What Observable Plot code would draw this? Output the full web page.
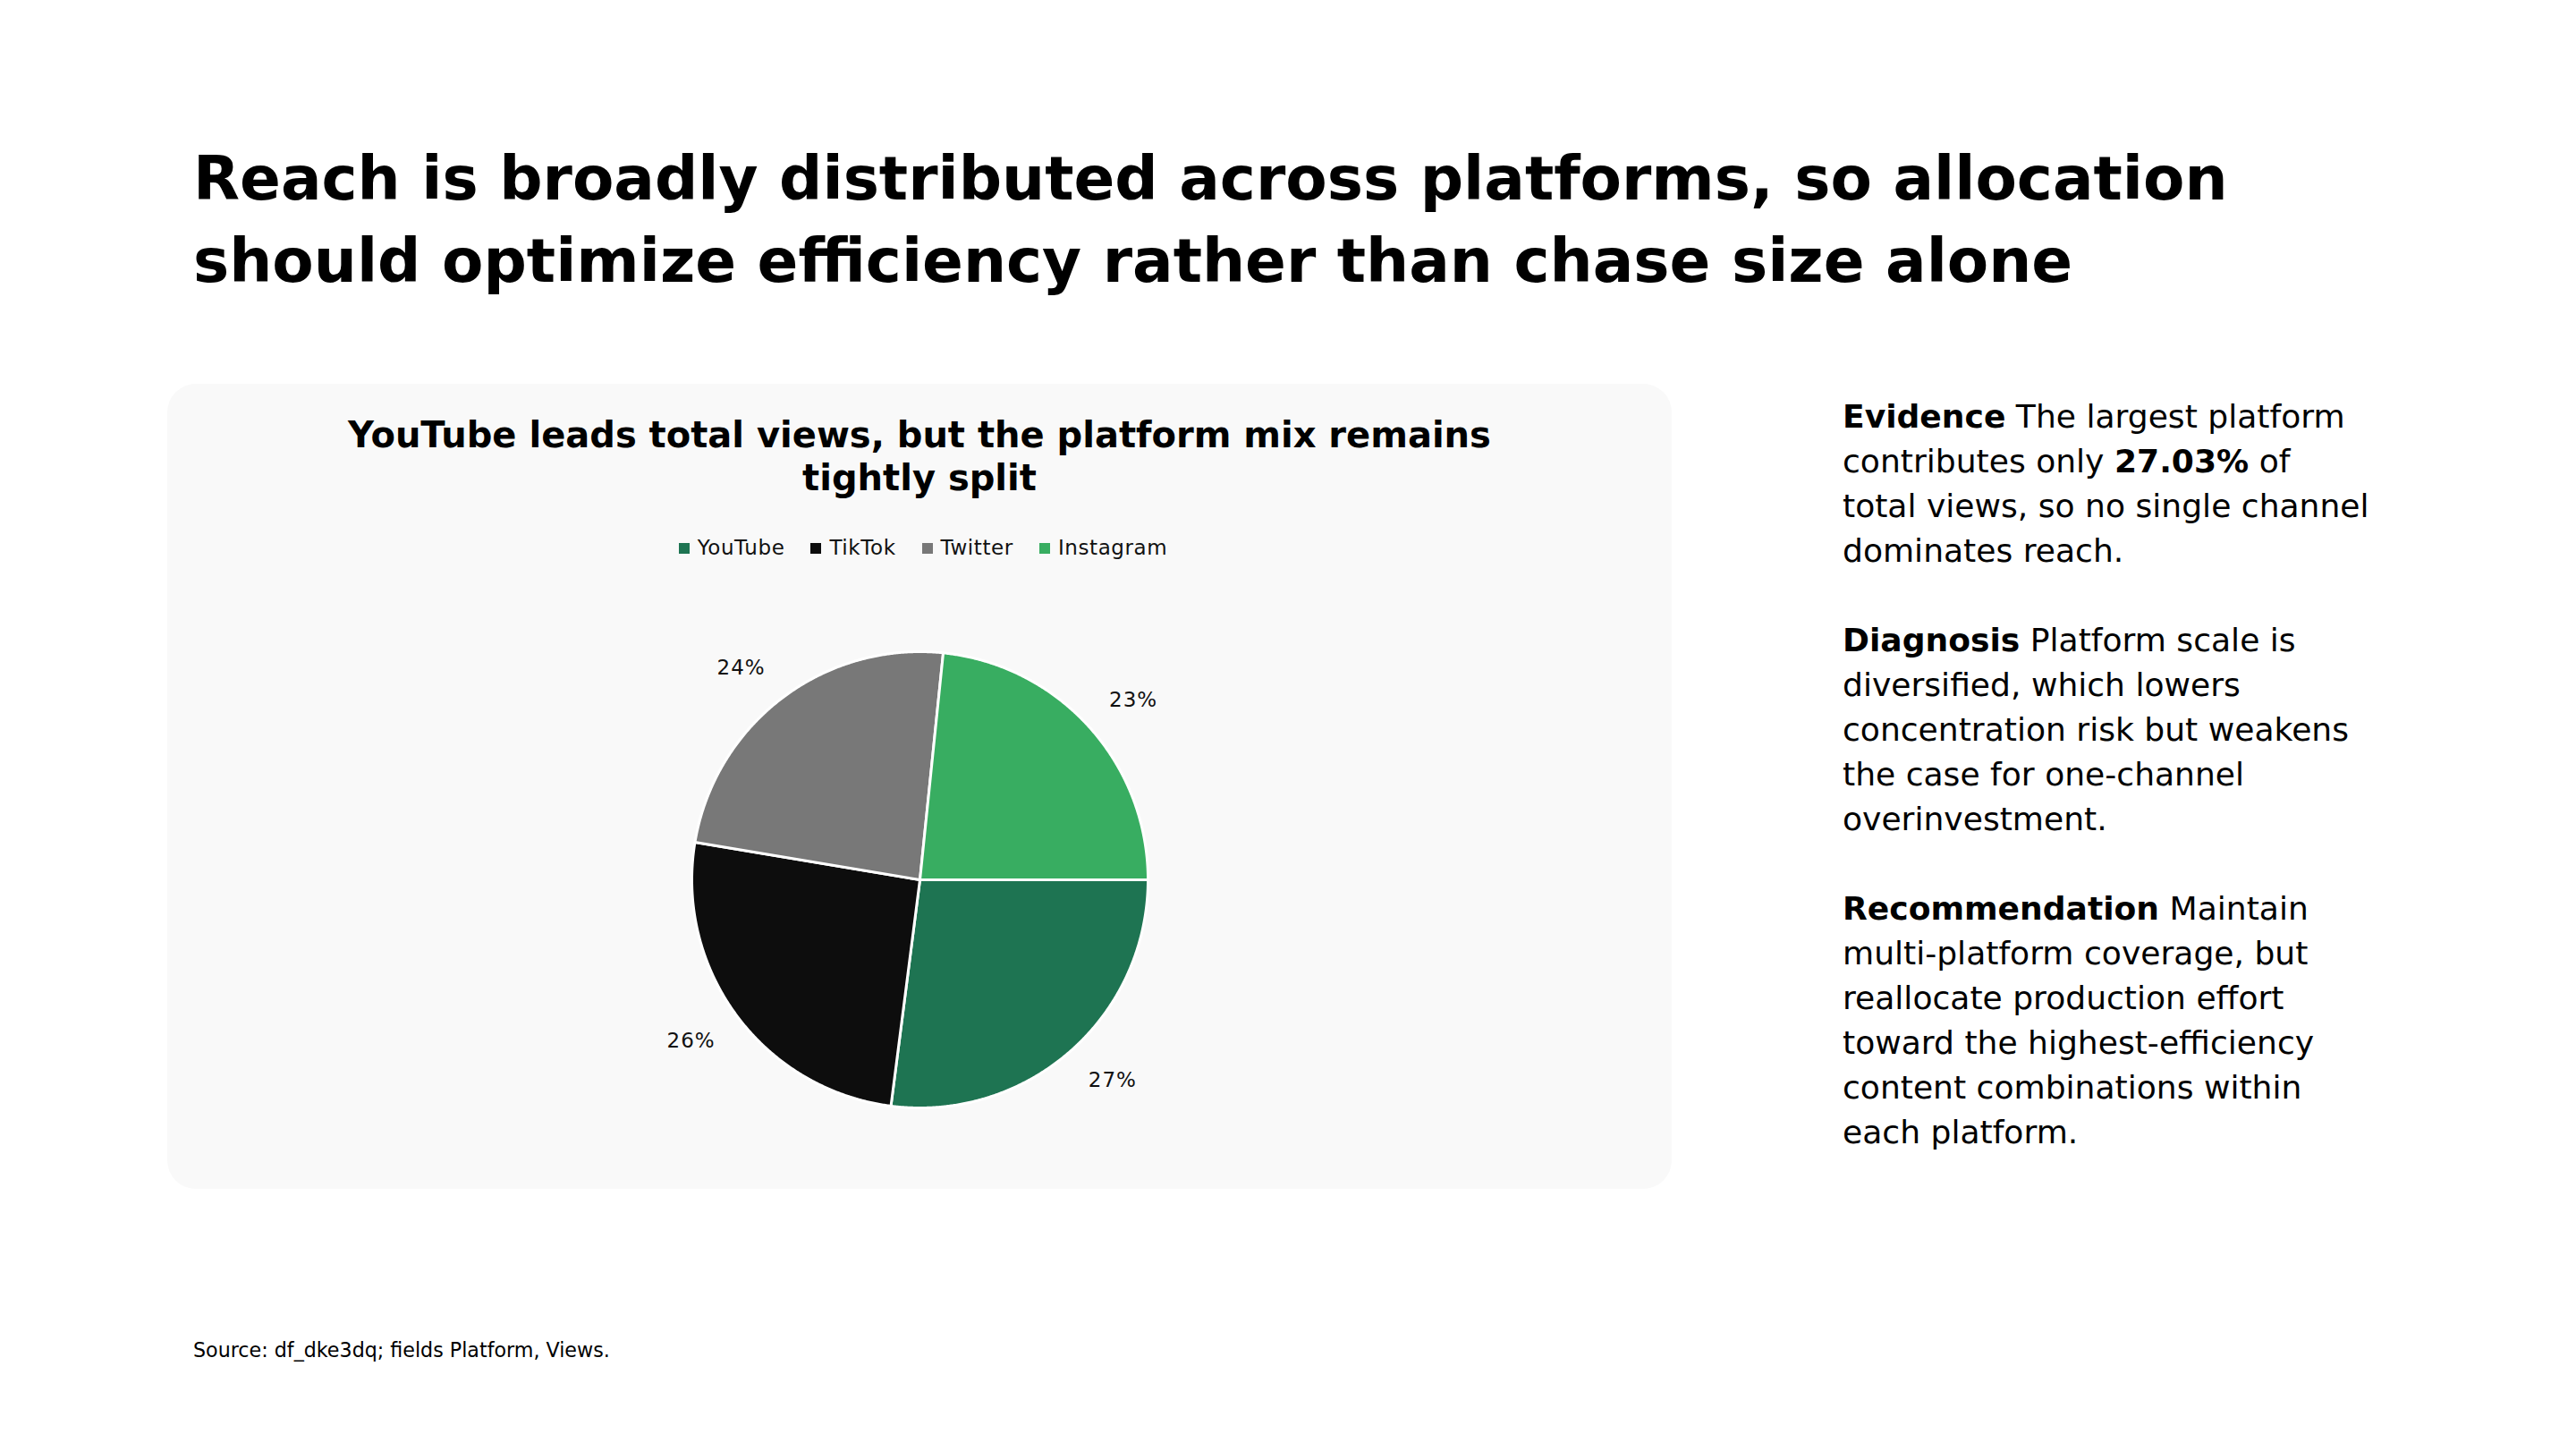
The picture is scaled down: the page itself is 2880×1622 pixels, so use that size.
<!DOCTYPE html>
<html>
<head>
<meta charset="utf-8">
<script src="https://cdn.jsdelivr.net/npm/d3@7"></script>
<script src="https://cdn.jsdelivr.net/npm/@observablehq/plot@0.6"></script>
<style>
  html, body { margin: 0; padding: 0; }
  body { width: 2880px; height: 1622px; position: relative; background: #ffffff; font-family: "DejaVu Sans", Verdana, sans-serif; color: #000; overflow: hidden; }
  .title { position: absolute; left: 216px; top: 154px; font-weight: 700; font-size: 67.6px; line-height: 92px; white-space: nowrap; }
  .panel { position: absolute; left: 187px; top: 429px; width: 1682px; height: 900px; border-radius: 32px; background: #f9f9f9; }
  .ctitle { position: absolute; left: 187px; width: 1682px; top: 462px; text-align: center; font-weight: 700; font-size: 40px; line-height: 48px; }
  .legend { position: absolute; left: 187px; width: 1682px; top: 601px; display: flex; justify-content: center; padding-left: 8px; box-sizing: border-box; font-size: 23px; line-height: 23px; letter-spacing: 0.6px; color: #111; }
  .legend .item { display: flex; align-items: center; margin: 0 14.5px; }
  .legend .sw { width: 12px; height: 12px; margin-right: 9px; }
  #chart { position: absolute; left: 628px; top: 663px; }
  .side { position: absolute; left: 2060px; top: 441px; font-size: 36.1px; line-height: 50px; white-space: nowrap; color: #000; }
  .side p { margin: 0 0 50px 0; }
  .source { position: absolute; left: 216px; top: 1498px; font-size: 22.2px; line-height: 22px; white-space: nowrap; color: #000; }
</style>
</head>
<body>
<div class="title">Reach is broadly distributed across platforms, so allocation<br>should optimize efficiency rather than chase size alone</div>
<div class="panel"></div>
<div class="ctitle">YouTube leads total views, but the platform mix remains<br>tightly split</div>
<div class="legend" id="legend"></div>
<div id="chart"></div>
<div class="side">
  <p><b>Evidence</b> The largest platform<br>contributes only <b>27.03%</b> of<br>total views, so no single channel<br>dominates reach.</p>
  <p><b>Diagnosis</b> Platform scale is<br>diversified, which lowers<br>concentration risk but weakens<br>the case for one-channel<br>overinvestment.</p>
  <p><b>Recommendation</b> Maintain<br>multi-platform coverage, but<br>reallocate production effort<br>toward the highest-efficiency<br>content combinations within<br>each platform.</p>
</div>
<div class="source">Source: df_dke3dq; fields Platform, Views.</div>
<script>
// ---- data ----
const platforms = ["YouTube", "TikTok", "Twitter", "Instagram"];
const shares = [27.03, 25.6, 24.0, 23.37]; // % of total views
const colors = ["#1e7452", "#0d0d0d", "#787878", "#38ad61"];

// ---- legend ----
const legend = document.getElementById("legend");
platforms.forEach((p, i) => {
  const it = document.createElement("div");
  it.className = "item";
  const sw = document.createElement("span");
  sw.className = "sw";
  sw.style.background = colors[i];
  const tx = document.createElement("span");
  tx.textContent = p;
  it.appendChild(sw); it.appendChild(tx);
  legend.appendChild(it);
});

// ---- pie geometry from data ----
const total = d3.sum(shares);
const rows = platforms.map((p, i) => ({platform: p, share: shares[i]}));
const arcs = d3.pie().sort(null).value(d => d.share)
  .startAngle(Math.PI / 2).endAngle(Math.PI / 2 + 2 * Math.PI)(rows);

const R = 255, W = 800, H = 640;
const poly = [];
const labels = [];
arcs.forEach(a => {
  const p = a.data.platform;
  poly.push({platform: p, x: 0, y: 0});
  const n = Math.max(2, Math.ceil((a.endAngle - a.startAngle) / 0.005));
  for (let k = 0; k <= n; k++) {
    const t = a.startAngle + (a.endAngle - a.startAngle) * k / n;
    poly.push({platform: p, x: Math.sin(t), y: Math.cos(t)});
  }
  poly.push({platform: p, x: 0, y: 0});
  // outside-end label: box placed just beyond the arc, pushed toward its quadrant
  const m = (a.startAngle + a.endAngle) / 2;
  const sx = Math.sign(Math.sin(m)), sy = Math.sign(Math.cos(m));
  labels.push({platform: p,
               x: 1.118 * Math.sin(m) + sx * 27 / R,
               y: 1.118 * Math.cos(m) + sy * 10 / R,
               text: Math.round(a.data.share / total * 100) + "%"});
});

const chart = Plot.plot({
  width: W,
  height: H,
  margin: 0,
  style: {background: "transparent", fontFamily: "DejaVu Sans, Verdana, sans-serif", overflow: "visible", letterSpacing: "1px"},
  x: {domain: [-W / 2 / R, W / 2 / R], axis: null},
  y: {domain: [-H / 2 / R, H / 2 / R], axis: null},
  color: {domain: platforms, range: colors},
  marks: [
    Plot.line(poly, {x: "x", y: "y", z: "platform", fill: "platform", stroke: "white", strokeWidth: 3, strokeLinejoin: "round", curve: "linear"}),
    Plot.text(labels, {x: "x", y: "y", text: "text", fontSize: 23, fill: "#111", textAnchor: "middle"})
  ]
});
document.getElementById("chart").appendChild(chart);
</script>
</body>
</html>
